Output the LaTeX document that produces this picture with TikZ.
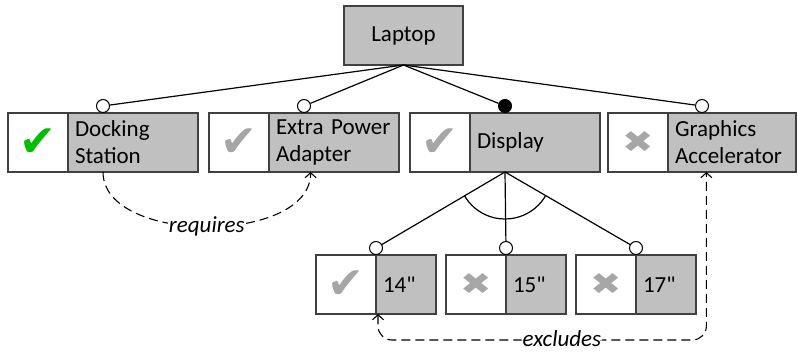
\documentclass[tikz,border=0pt]{standalone}
\usepackage{fontspec}
\setmainfont{Carlito}
\newfontfamily\inchfont{Carlito}[Ligatures=TeXOff]
\newfontfamily\symbfont{DejaVu Sans}
\usetikzlibrary{positioning,calc,arrows.meta}

\definecolor{featgray}{RGB}{192,192,192}
\definecolor{selgreen}{RGB}{0,190,0}
\definecolor{selgray}{RGB}{166,166,166}
\newcommand{\ticked}[1]{{\symbfont\fontsize{44}{44}\selectfont\textcolor{#1}{✔}}}
\newcommand{\crossed}{{\symbfont\fontsize{30}{30}\selectfont\textcolor{selgray}{\scalebox{1.25}[1]{✖}}}}
\newcommand{\inch}{{\inchfont"}}

\begin{document}
\begin{tikzpicture}[x=1pt,y=1pt]
  \useasboundingbox (0,0) rectangle (797,-352);
  \begin{scope}[
    every node/.style={
      draw=black!75,
      line width=1.3pt,
      minimum height=59pt,
      outer sep=0pt,
      font=\fontsize{23}{27}\selectfont,
    },
    selbox/.style={fill=white,minimum width=60pt,inner sep=0pt,anchor=west},
    featbox/.style={fill=featgray,text width=#1,inner xsep=7pt,inner ysep=0pt,align=left},
    featbox/.default=116pt,
    ]
    \node[fill=featgray,minimum width=119pt] (laptop) at (403.5,-35.5) {Laptop};
    \node[selbox] (dock-sel)  at (8,-142.5)   {\ticked{selgreen}};
    \node[featbox,right=0pt of dock-sel]  (dock)  {Docking\\Station};
    \node[selbox] (power-sel) at (209,-142.5) {\ticked{selgray}};
    \node[featbox,right=0pt of power-sel] (power) {Extra Power\\Adapter};
    \node[selbox] (disp-sel)  at (410,-142.5) {\ticked{selgray}};
    \node[featbox,right=0pt of disp-sel]  (disp)  {Display};
    \node[selbox] (gfx-sel)   at (608,-142.5) {\crossed};
    \node[featbox=114pt,right=0pt of gfx-sel] (gfx) {Graphics\\Accelerator};
    \node[selbox] (in14-sel)  at (316,-284.5) {\ticked{selgray}};
    \node[featbox=46pt,right=0pt of in14-sel] (in14) {14\inch};
    \node[selbox] (in15-sel)  at (446,-284.5) {\crossed};
    \node[featbox=46pt,right=0pt of in15-sel] (in15) {15\inch};
    \node[selbox] (in17-sel)  at (576,-284.5) {\crossed};
    \node[featbox=46pt,right=0pt of in17-sel] (in17) {17\inch};
  \end{scope}
  \coordinate (disp-bot) at ($(disp-sel.south west)!.5!(disp.south east)$);
  \begin{scope}[
    every node/.style={circle,draw,fill=white,line width=1pt,inner sep=0pt,minimum size=13pt,anchor=south},
    ]
    \node (dock-opt)  at ($(dock-sel.north west)!.5!(dock.north east)$)   {};
    \node (power-opt) at ($(power-sel.north west)!.5!(power.north east)$) {};
    \node[fill=black] (disp-man) at ($(disp-sel.north west)!.5!(disp.north east)$) {};
    \node (gfx-opt)   at ($(gfx-sel.north west)!.5!(gfx.north east)$)     {};
    \node (in14-opt)  at ($(in14-sel.north west)!.5!(in14.north east)$)   {};
    \node (in15-opt)  at ($(in15-sel.north west)!.5!(in15.north east)$)   {};
    \node (in17-opt)  at ($(in17-sel.north west)!.5!(in17.north east)$)   {};
  \end{scope}
  \begin{scope}[every path/.style={draw,line width=1.2pt}]
    \path
    (laptop.south) edge (dock-opt)
    (laptop.south) edge (power-opt)
    (laptop.south) edge (disp-man)
    (laptop.south) edge (gfx-opt)
    (disp-bot)     edge (in14-opt)
    (disp-bot)     edge (in15-opt)
    (disp-bot)     edge (in17-opt);
  \end{scope}
  \begin{scope}
    \clip (disp-bot) -- (in14-opt.center) -- (in17-opt.center) -- cycle;
    \draw[line width=1.2pt] (disp-bot) circle (47pt);
  \end{scope}
  \coordinate (dock-b)  at ($(dock-sel.south west)!.5!(dock.south east)$);
  \coordinate (power-b) at ($(power.south west)!.32!(power.south east)$);
  \coordinate (gfx-b)   at ($(gfx.south west)!.3!(gfx.south east)$);
  \coordinate (in14-b)  at ($(in14.south west)+(2,0)$);
  \begin{scope}[
    every node/.style={fill=white,inner sep=1pt,font=\fontsize{23}{27}\selectfont\itshape},
    every path/.style={draw,line width=1.1pt,dash pattern=on 9pt off 5pt},
    dep/.tip={Straight Barb[length=5pt,width=11pt]},
    ]
    \path[-dep] (dock-b) to[out=-90,in=-90,looseness=.9] node{requires} (power-b);
    \path[dep-dep,rounded corners=14pt]
    (in14-b) -- ++(0,-26) -| node[pos=.28,yshift=1pt]{excludes} (gfx-b);
  \end{scope}
\end{tikzpicture}
\end{document}
